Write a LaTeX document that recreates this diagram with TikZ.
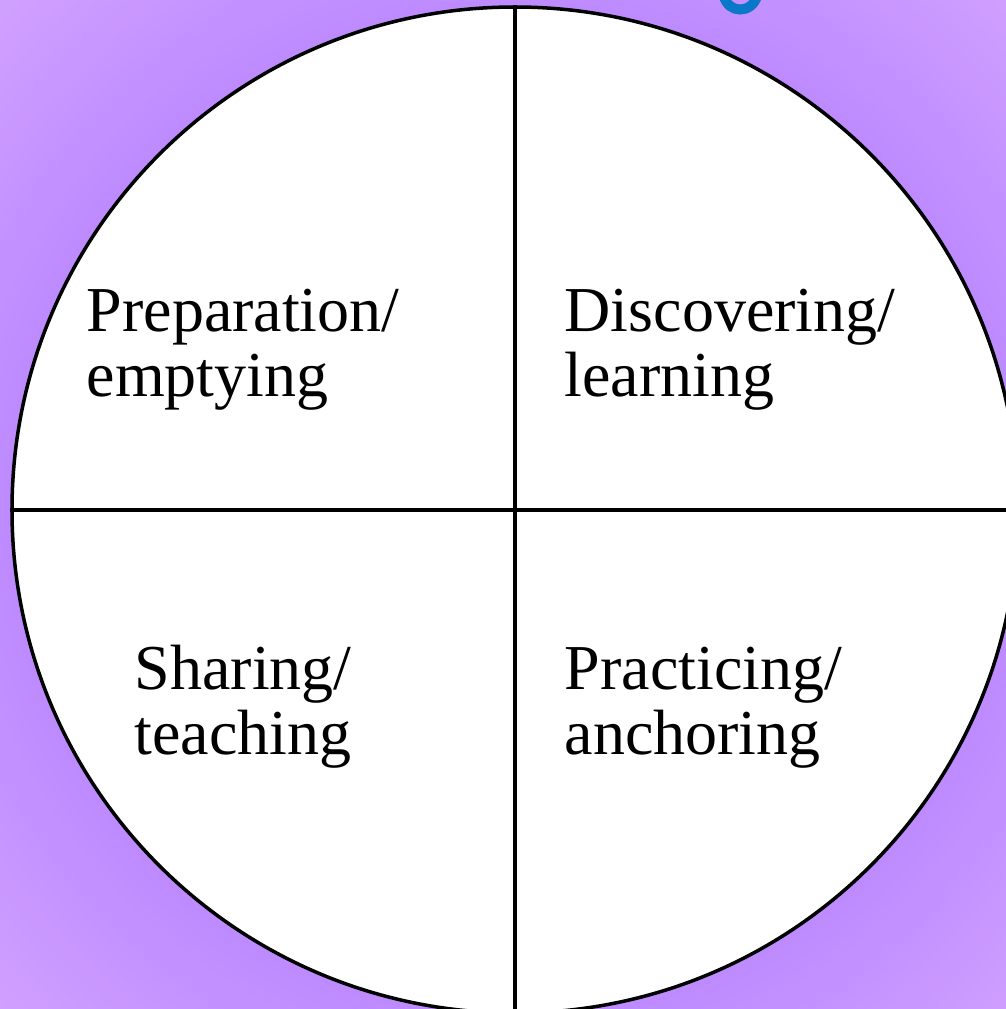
\documentclass[tikz,border=0pt]{standalone}
\usepackage{fontspec}
\setmainfont{Liberation Serif}
\usetikzlibrary{positioning}
\definecolor{bgdark}{HTML}{9258FF}
\definecolor{bglight}{HTML}{D0A0FF}
\definecolor{hookblue}{HTML}{0A78C8}
\begin{document}
\begin{tikzpicture}[x=1pt, y=-1pt, line width=3.5pt,
    quarter/.style={anchor=base west, align=left, inner sep=0pt, font=\fontsize{64}{65}\selectfont}]
        % background
        \useasboundingbox (0,0) rectangle (1006,1009);
        \begin{scope}
            \clip (0,0) rectangle (1006,1009);
            \shade[inner color=bgdark, outer color=bglight] (-200,-205) rectangle (1230,1225);
            \draw[hookblue, line width=10pt, line cap=round] (724,-4) .. controls (728,14) and (752,14) .. (757,-4);
        \end{scope}

        \node[circle, draw, fill=white, minimum size=1006pt, inner sep=0pt] (wheel) at (515,510) {};
        \draw (wheel.north) -- (wheel.south);
        \draw (wheel.west) -- (wheel.east);

        \node[quarter] (prep) at (85,396) {Preparation/\\emptying};
        \node[quarter] (disc) at (563,396) {Discovering/\\learning};
        \node[quarter] (share) at (133,754) {Sharing/\\teaching};
        \node[quarter] (pract) at (563,754) {Practicing/\\anchoring};
    \end{tikzpicture}
\end{document}
